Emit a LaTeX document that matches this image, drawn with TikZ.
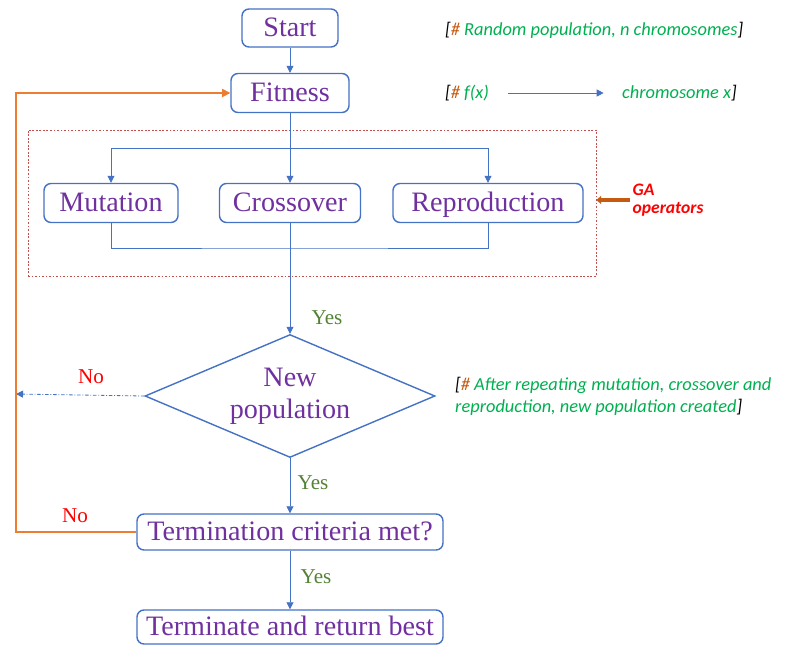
\documentclass[tikz,border=0pt]{standalone}
\usepackage{fontspec}
\setmainfont{Liberation Serif}
\newfontfamily\notefont{Carlito}
\usetikzlibrary{shapes.geometric,arrows.meta}
\definecolor{boxblue}{RGB}{68,114,196}
\definecolor{txtpurple}{RGB}{112,48,160}
\definecolor{notegreen}{RGB}{0,176,80}
\definecolor{hashorange}{RGB}{197,90,17}
\definecolor{loopcol}{RGB}{237,125,49}
\definecolor{yesgreen}{RGB}{84,130,53}
\definecolor{dashred}{RGB}{192,80,77}
\tikzset{
  procbox/.style={draw=boxblue, line width=1.2pt, rounded corners=6pt, text=txtpurple,
    inner sep=0pt, text height=18pt, text depth=4pt, font=\fontsize{24}{28}\selectfont},
  decbox/.style={diamond, draw=boxblue, line width=1.2pt, text=txtpurple, inner sep=0pt,
    aspect=2.36, minimum width=8.7cm, minimum height=3.69cm, align=center,
    font=\fontsize{24}{27}\selectfont},
  flow/.style={draw=boxblue, line width=0.7pt, -{Triangle[length=6pt,width=6pt]}},
  link/.style={draw=boxblue, line width=0.7pt},
  yeslab/.style={text=yesgreen, font=\rmfamily\fontsize{18}{20}\selectfont},
  nolab/.style={text=red, font=\rmfamily\fontsize{18}{20}\selectfont},
  note/.style={text=notegreen, anchor=west, inner sep=0pt, align=left,
    font=\notefont\itshape\fontsize{15.7}{18.5}\selectfont}
}
\newcommand{\hsh}{\textcolor{hashorange}{\#}}
\newcommand{\lb}{\textcolor{black}{[}}
\newcommand{\rb}{\textcolor{black}{]}}

\begin{document}
\begin{tikzpicture}[x=0.03cm, y=-0.03cm]
\useasboundingbox (0,0) rectangle (786,646);

% main boxes
\draw (290,28) node[procbox, minimum width=2.88cm, minimum height=1.14cm] (start) {Start};
\draw (290,93) node[procbox, minimum width=3.54cm, minimum height=1.17cm] (fit) {Fitness};
\draw (312,203) node[draw=dashred, line width=0.8pt, dash pattern=on 1.5pt off 1.5pt,
  minimum width=17.04cm, minimum height=4.38cm] (ops) {};
\draw (111,203) node[procbox, minimum width=4.02cm, minimum height=1.17cm] (mut) {Mutation};
\draw (290,203) node[procbox, minimum width=4.23cm, minimum height=1.17cm] (cross) {Crossover};
\draw (488,203) node[procbox, minimum width=5.7cm, minimum height=1.17cm] (rep) {Reproduction};
\draw (290,396) node[decbox] (newpop) {New\\population};
\draw (290,532) node[procbox, minimum width=9.18cm, minimum height=1.08cm] (term) {Termination criteria met?};
\draw (290,627) node[procbox, minimum width=9.18cm, minimum height=1.02cm] (best) {Terminate and return best};

\coordinate (brtop) at (290,148);
\coordinate (brbot) at (290,248);
\coordinate (noend) at (16,394);
\coordinate (back) at (16,532);

% connectors
\draw[flow] (start) -- (fit);
\draw[flow] (fit) -- (cross);
\draw[flow] (brtop) -| (mut.north);
\draw[flow] (brtop) -| (rep.north);
\draw[link] (mut.south) |- (brbot) -| (rep.south);
\draw[flow] (cross) -- (newpop);
\draw[flow, dash pattern=on 3pt off 1.5pt on 0.8pt off 1.5pt] (newpop.west) -- (noend);
\draw[flow] (newpop) -- (term);
\draw[flow] (term) -- (best);
\draw[draw=loopcol, line width=1.2pt, -{Triangle[length=7pt,width=7pt]}] (term.west) -- (back) |- (fit.west);

% labels
\draw (327,318) node[yeslab] (y1) {Yes};
\draw (313,483) node[yeslab] (y2) {Yes};
\draw (316,577) node[yeslab] (y3) {Yes};
\draw (91,377) node[nolab] (n1) {No};
\draw (75,516) node[nolab] (n2) {No};

% notes
\draw (445,30) node[note] (note1) {\lb\hsh\ Random population, n chromosomes\rb};
\draw (445,93) node[note] (fx) {\lb\hsh\ f(x)};
\draw (622,93) node[note] (chrom) {chromosome x\rb};
\draw[flow, shorten <=0.55cm, shorten >=0.55cm] (fx.east) -- (chrom.west);
\draw (455,396) node[note] (note3) {\lb\hsh\ After repeating mutation, crossover and\\reproduction, new population created\rb};
\draw (630,200) node[anchor=west, inner sep=2pt, align=left, text=red,
  font=\notefont\bfseries\itshape\fontsize{15}{16}\selectfont] (galab) {GA\\operators};
\draw[draw=hashorange, line width=2.8pt, -{Triangle[length=4pt,width=7pt]}] (galab.west) -- (galab.west -| ops.east);
\end{tikzpicture}
\end{document}
